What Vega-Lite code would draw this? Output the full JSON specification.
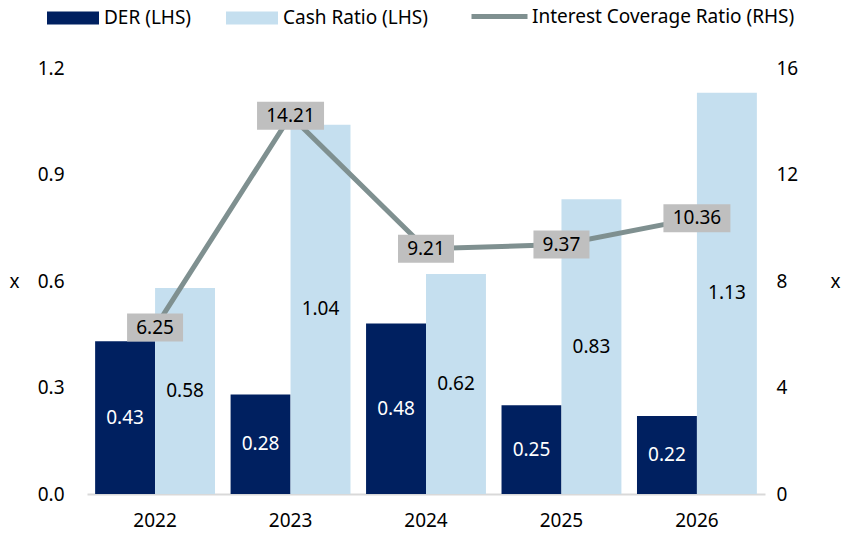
{
  "$schema": "https://vega.github.io/schema/vega-lite/v6.json",
  "autosize": {"type": "none"},
  "width": 678,
  "height": 426,
  "padding": {"left": 87, "top": 68, "right": 91, "bottom": 45},
  "background": "white",
  "config": {
    "font": "Noto Sans",
    "view": {"stroke": null},
    "axis": {"labelFont": "Noto Sans", "labelFontSize": 19, "labelColor": "#000", "titleFont": "Noto Sans", "titleFontWeight": "normal", "titleFontSize": 19, "titleColor": "#000", "grid": false, "ticks": false},
    "legend": {"labelFont": "Noto Sans", "labelFontSize": 19, "labelColor": "#000", "padding": 0, "labelLimit": 400}
  },
  "datasets": {
    "bars": [
      {"year": "2022", "series": "DER (LHS)", "value": 0.43},
      {"year": "2022", "series": "Cash Ratio (LHS)", "value": 0.58},
      {"year": "2023", "series": "DER (LHS)", "value": 0.28},
      {"year": "2023", "series": "Cash Ratio (LHS)", "value": 1.04},
      {"year": "2024", "series": "DER (LHS)", "value": 0.48},
      {"year": "2024", "series": "Cash Ratio (LHS)", "value": 0.62},
      {"year": "2025", "series": "DER (LHS)", "value": 0.25},
      {"year": "2025", "series": "Cash Ratio (LHS)", "value": 0.83},
      {"year": "2026", "series": "DER (LHS)", "value": 0.22},
      {"year": "2026", "series": "Cash Ratio (LHS)", "value": 1.13}
    ],
    "icr": [
      {"year": "2022", "series": "Interest Coverage Ratio (RHS)", "icr": 6.25},
      {"year": "2023", "series": "Interest Coverage Ratio (RHS)", "icr": 14.21},
      {"year": "2024", "series": "Interest Coverage Ratio (RHS)", "icr": 9.21},
      {"year": "2025", "series": "Interest Coverage Ratio (RHS)", "icr": 9.37},
      {"year": "2026", "series": "Interest Coverage Ratio (RHS)", "icr": 10.36}
    ]
  },
  "encoding": {
    "x": {
      "field": "year", "type": "nominal",
      "scale": {"paddingInner": 0.115, "paddingOuter": 0.06},
      "axis": {"title": null, "labelAngle": 0, "labelPadding": 17, "domainColor": "#d9d9d9", "domainWidth": 2}
    }
  },
  "layer": [
    {
      "data": {"name": "bars"},
      "mark": {"type": "bar"},
      "encoding": {
        "xOffset": {"field": "series", "type": "nominal", "sort": ["DER (LHS)", "Cash Ratio (LHS)"], "scale": {"paddingInner": 0, "paddingOuter": 0}},
        "y": {
          "field": "value", "type": "quantitative",
          "scale": {"domain": [0, 1.2], "nice": false},
          "axis": {"values": [0, 0.3, 0.6, 0.9, 1.2], "format": ".1f", "domain": false, "labelPadding": 23, "title": "x", "titleAngle": 0, "titleX": -73, "titleY": 213, "titleAlign": "center", "titleBaseline": "middle"}
        },
        "color": {
          "field": "series", "type": "nominal",
          "scale": {"domain": ["DER (LHS)", "Cash Ratio (LHS)"], "range": ["#002060", "#c5dfef"]},
          "legend": {"title": null, "orient": "none", "direction": "horizontal", "legendX": -40, "legendY": -76, "symbolType": "M-1,-0.25L1,-0.25L1,0.25L-1,0.25Z", "symbolSize": 2704, "symbolStrokeWidth": 0, "labelOffset": 5, "columnPadding": 34}
        }
      }
    },
    {
      "data": {"name": "bars"},
      "mark": {"type": "text", "fontSize": 19, "font": "Noto Sans"},
      "encoding": {
        "xOffset": {"field": "series", "type": "nominal", "sort": ["DER (LHS)", "Cash Ratio (LHS)"], "scale": {"paddingInner": 0, "paddingOuter": 0}},
        "y": {"field": "value", "type": "quantitative", "scale": {"domain": [0, 2.4], "nice": false}, "axis": null},
        "text": {"field": "value", "type": "quantitative", "format": ".2f"},
        "color": {"condition": {"test": "datum.series === 'DER (LHS)'", "value": "#ffffff"}, "value": "#000000"}
      }
    },
    {
      "data": {"name": "icr"},
      "encoding": {
        "y": {
          "field": "icr", "type": "quantitative",
          "scale": {"domain": [0, 16], "nice": false},
          "axis": {"orient": "right", "values": [0, 4, 8, 12, 16], "domain": false, "labelPadding": 11, "title": "x", "titleAngle": 0, "titleX": 70, "titleY": 213, "titleAlign": "center", "titleBaseline": "middle"}
        }
      },
      "layer": [
        {
          "mark": {"type": "line", "strokeWidth": 5},
          "encoding": {
            "stroke": {
              "field": "series", "type": "nominal",
              "scale": {"range": ["#7f9090"]},
              "legend": {"title": null, "orient": "none", "direction": "horizontal", "legendX": 382, "legendY": -82, "symbolType": "stroke", "symbolSize": 3136, "symbolStrokeWidth": 5, "labelOffset": 2}
            }
          }
        },
        {
          "mark": {"type": "point", "filled": true, "fill": "#bfbfbf", "opacity": 1, "strokeWidth": 0},
          "encoding": {
            "shape": {"condition": {"test": "datum.icr >= 10", "value": "M-1,-0.418L1,-0.418L1,0.418L-1,0.418Z"}, "value": "M-1,-0.5L1,-0.5L1,0.5L-1,0.5Z"},
            "size": {"condition": {"test": "datum.icr >= 10", "value": 4489}, "value": 3136}
          }
        },
        {
          "mark": {"type": "text", "fontSize": 19, "font": "Noto Sans", "color": "#000"},
          "encoding": {
            "text": {"field": "icr", "type": "quantitative", "format": ".2f"}
          }
        }
      ]
    }
  ],
  "resolve": {"scale": {"y": "independent"}}
}
